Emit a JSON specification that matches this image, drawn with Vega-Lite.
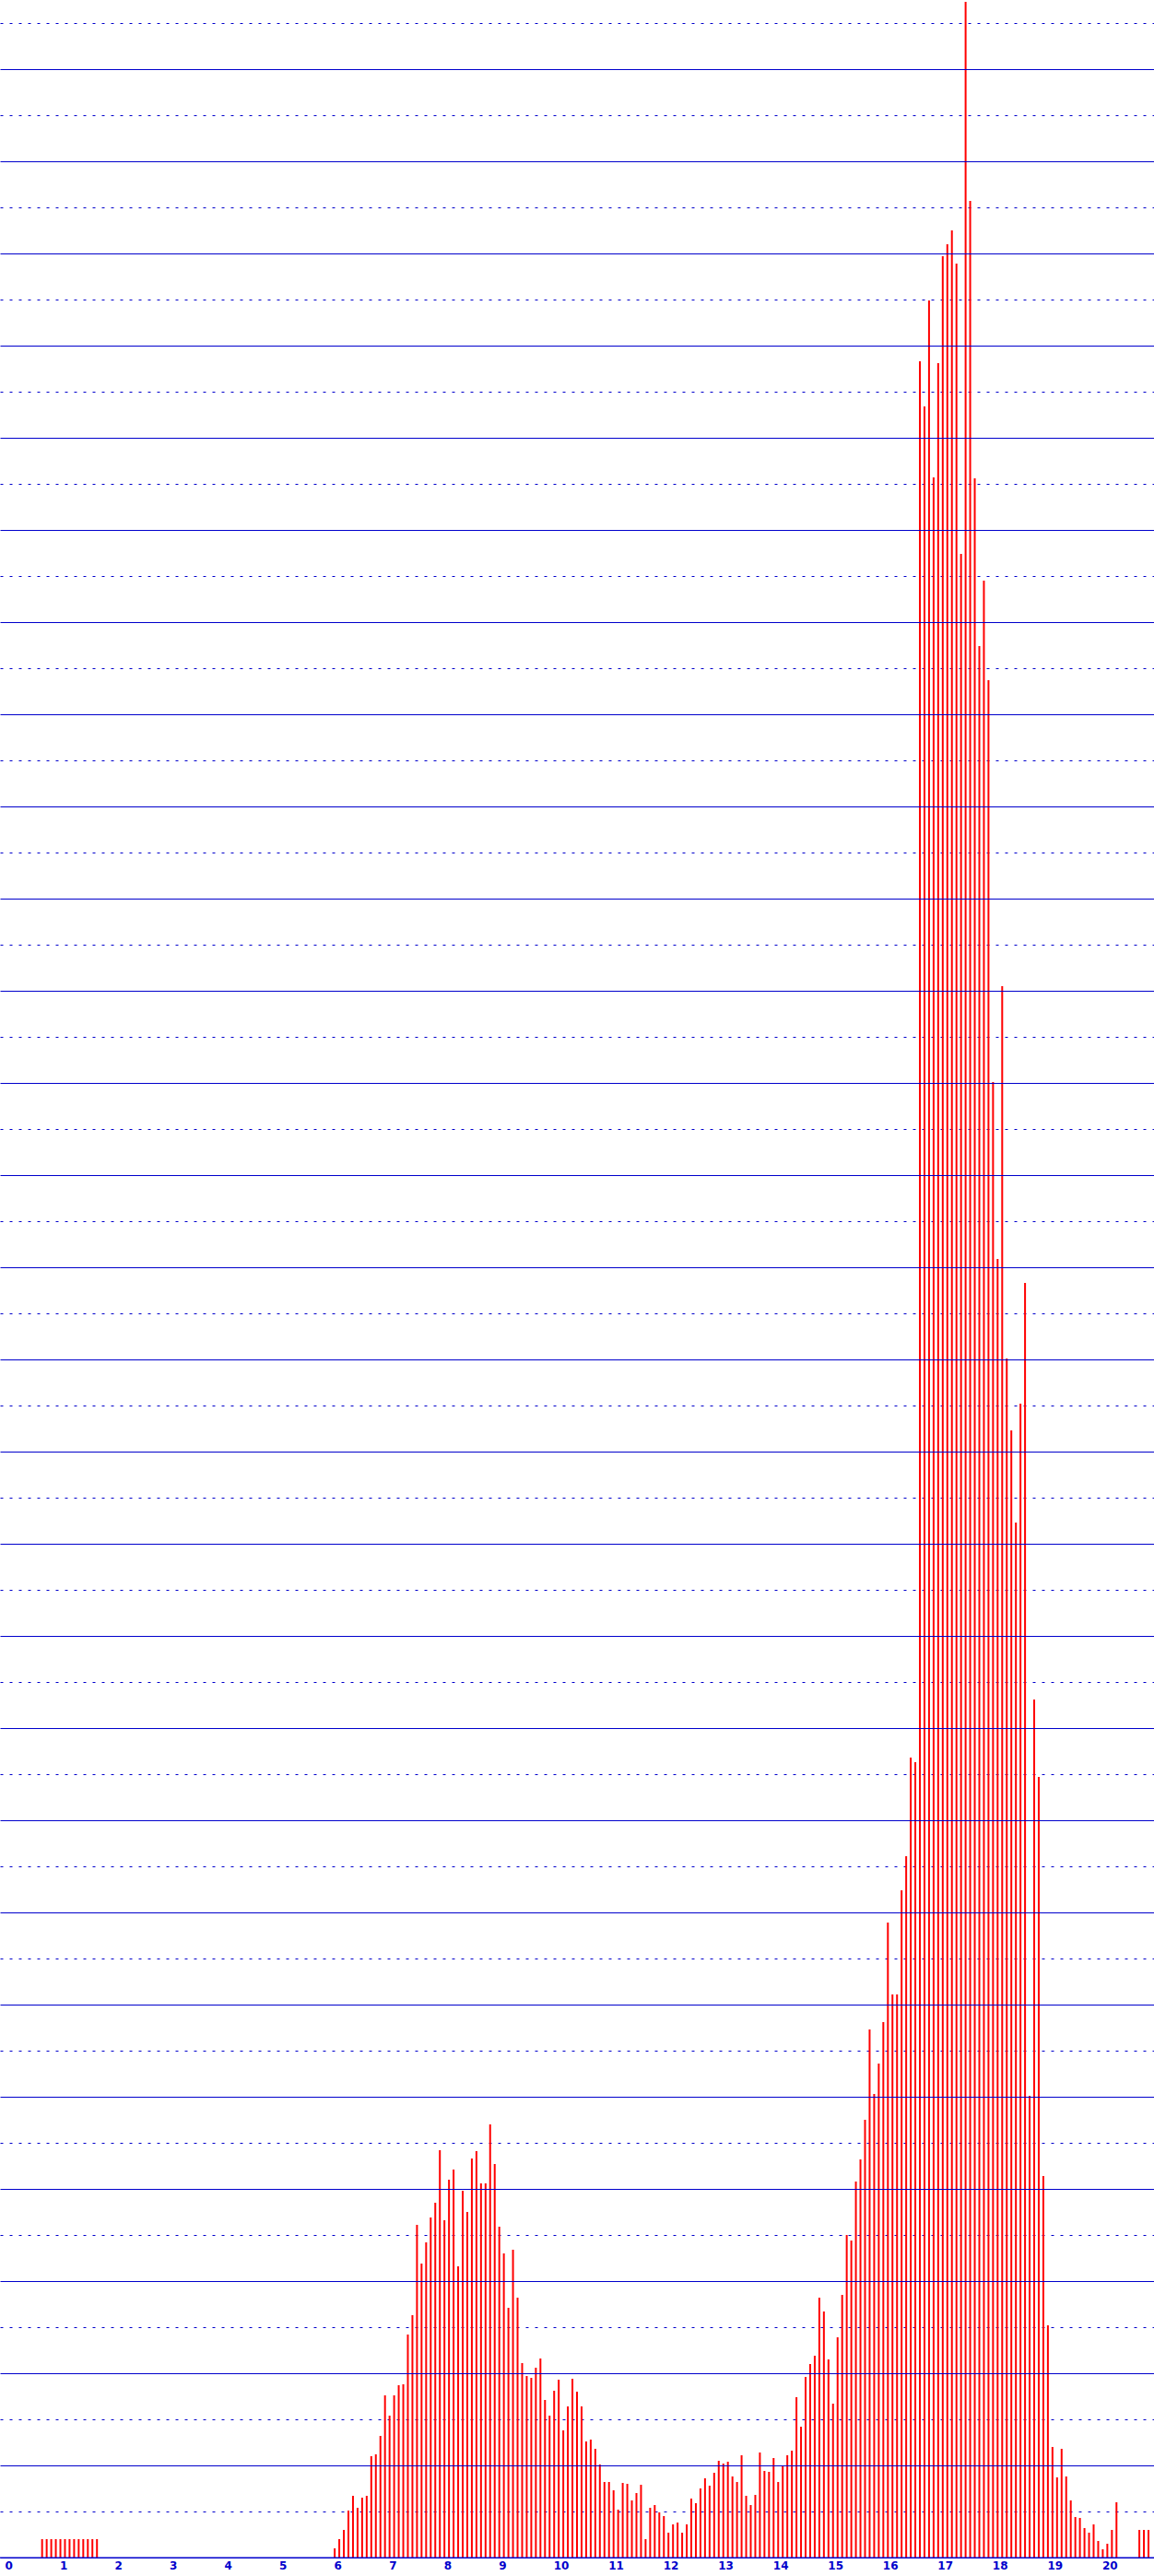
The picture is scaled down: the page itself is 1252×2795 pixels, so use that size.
{
"$schema": "https://vega.github.io/schema/vega-lite/v6.json",
"width": 1252,
"height": 2775,
"autosize": {"type": "none"},
"padding": {"left": 0, "right": 0, "top": 0, "bottom": 20},
"background": "white",
"config": {"view": {"stroke": null}},
"data": {"values": [
{"x":0.6667,"y":0.2},{"x":0.75,"y":0.2},{"x":0.8333,"y":0.2},{"x":0.9167,"y":0.2},{"x":1.0,"y":0.2},{"x":1.0833,"y":0.2},{"x":1.1667,"y":0.2},{"x":1.25,"y":0.2},{"x":1.3333,"y":0.2},{"x":1.4167,"y":0.2},{"x":1.5,"y":0.2},{"x":1.5833,"y":0.2},{"x":1.6667,"y":0.2},
{"x":6.0,"y":0.10},{"x":6.0833,"y":0.20},{"x":6.1667,"y":0.30},{"x":6.25,"y":0.51},{"x":6.3333,"y":0.67},{"x":6.4167,"y":0.54},{"x":6.5,"y":0.65},{"x":6.5833,"y":0.67},{"x":6.6667,"y":1.10},{"x":6.75,"y":1.12},{"x":6.8333,"y":1.32},{"x":6.9167,"y":1.76},
{"x":7.0,"y":1.54},{"x":7.0833,"y":1.76},{"x":7.1667,"y":1.87},{"x":7.25,"y":1.88},{"x":7.3333,"y":2.42},{"x":7.4167,"y":2.63},{"x":7.5,"y":3.61},{"x":7.5833,"y":3.19},{"x":7.6667,"y":3.42},{"x":7.75,"y":3.69},{"x":7.8333,"y":3.85},{"x":7.9167,"y":4.42},
{"x":8.0,"y":3.66},{"x":8.0833,"y":4.10},{"x":8.1667,"y":4.21},{"x":8.25,"y":3.16},{"x":8.3333,"y":3.98},{"x":8.4167,"y":3.75},{"x":8.5,"y":4.33},{"x":8.5833,"y":4.41},{"x":8.6667,"y":4.06},{"x":8.75,"y":4.06},{"x":8.8333,"y":4.70},{"x":8.9167,"y":4.27},
{"x":9.0,"y":3.59},{"x":9.0833,"y":3.30},{"x":9.1667,"y":2.71},{"x":9.25,"y":3.34},{"x":9.3333,"y":2.82},{"x":9.4167,"y":2.11},{"x":9.5,"y":1.97},{"x":9.5833,"y":1.95},{"x":9.6667,"y":2.06},{"x":9.75,"y":2.16},{"x":9.8333,"y":1.71},{"x":9.9167,"y":1.54},
{"x":10.0,"y":1.81},{"x":10.0833,"y":1.93},{"x":10.1667,"y":1.38},{"x":10.25,"y":1.64},{"x":10.3333,"y":1.94},{"x":10.4167,"y":1.80},{"x":10.5,"y":1.64},{"x":10.5833,"y":1.26},{"x":10.6667,"y":1.28},{"x":10.75,"y":1.18},{"x":10.8333,"y":1.01},{"x":10.9167,"y":0.82},
{"x":11.0,"y":0.82},{"x":11.0833,"y":0.73},{"x":11.1667,"y":0.52},{"x":11.25,"y":0.81},{"x":11.3333,"y":0.80},{"x":11.4167,"y":0.62},{"x":11.5,"y":0.70},{"x":11.5833,"y":0.79},{"x":11.6667,"y":0.20},{"x":11.75,"y":0.54},{"x":11.8333,"y":0.57},{"x":11.9167,"y":0.49},
{"x":12.0,"y":0.45},{"x":12.0833,"y":0.27},{"x":12.1667,"y":0.36},{"x":12.25,"y":0.38},{"x":12.3333,"y":0.27},{"x":12.4167,"y":0.36},{"x":12.5,"y":0.64},{"x":12.5833,"y":0.59},{"x":12.6667,"y":0.75},{"x":12.75,"y":0.86},{"x":12.8333,"y":0.78},{"x":12.9167,"y":0.92},
{"x":13.0,"y":1.05},{"x":13.0833,"y":1.02},{"x":13.1667,"y":1.04},{"x":13.25,"y":0.88},{"x":13.3333,"y":0.82},{"x":13.4167,"y":1.11},{"x":13.5,"y":0.67},{"x":13.5833,"y":0.57},{"x":13.6667,"y":0.68},{"x":13.75,"y":1.14},{"x":13.8333,"y":0.94},{"x":13.9167,"y":0.93},
{"x":14.0,"y":1.08},{"x":14.0833,"y":0.82},{"x":14.1667,"y":1.00},{"x":14.25,"y":1.11},{"x":14.3333,"y":1.16},{"x":14.4167,"y":1.74},{"x":14.5,"y":1.42},{"x":14.5833,"y":1.96},{"x":14.6667,"y":2.10},{"x":14.75,"y":2.19},{"x":14.8333,"y":2.82},{"x":14.9167,"y":2.67},
{"x":15.0,"y":2.15},{"x":15.0833,"y":1.67},{"x":15.1667,"y":2.39},{"x":15.25,"y":2.85},{"x":15.3333,"y":3.50},{"x":15.4167,"y":3.44},{"x":15.5,"y":4.08},{"x":15.5833,"y":4.32},{"x":15.6667,"y":4.75},{"x":15.75,"y":5.73},{"x":15.8333,"y":5.03},{"x":15.9167,"y":5.36},
{"x":16.0,"y":5.81},{"x":16.0833,"y":6.89},{"x":16.1667,"y":6.11},{"x":16.25,"y":6.11},{"x":16.3333,"y":7.24},{"x":16.4167,"y":7.61},{"x":16.5,"y":8.68},{"x":16.5833,"y":8.63},{"x":16.6667,"y":23.83},{"x":16.75,"y":23.34},{"x":16.8333,"y":24.49},{"x":16.9167,"y":22.57},
{"x":17.0,"y":23.81},{"x":17.0833,"y":24.97},{"x":17.1667,"y":25.10},{"x":17.25,"y":25.25},{"x":17.3333,"y":24.89},{"x":17.4167,"y":21.74},{"x":17.5,"y":27.73},{"x":17.5833,"y":25.57},{"x":17.6667,"y":22.56},{"x":17.75,"y":20.74},{"x":17.8333,"y":21.45},{"x":17.9167,"y":20.37},
{"x":18.0,"y":16.01},{"x":18.0833,"y":14.09},{"x":18.1667,"y":17.05},{"x":18.25,"y":13.01},{"x":18.3333,"y":12.23},{"x":18.4167,"y":11.23},{"x":18.5,"y":12.52},{"x":18.5833,"y":13.83},{"x":18.6667,"y":5.01},{"x":18.75,"y":9.31},{"x":18.8333,"y":8.47},{"x":18.9167,"y":4.14},
{"x":19.0,"y":2.52},{"x":19.0833,"y":1.20},{"x":19.1667,"y":0.87},{"x":19.25,"y":1.18},{"x":19.3333,"y":0.88},{"x":19.4167,"y":0.62},{"x":19.5,"y":0.44},{"x":19.5833,"y":0.43},{"x":19.6667,"y":0.32},{"x":19.75,"y":0.27},{"x":19.8333,"y":0.36},{"x":19.9167,"y":0.18},
{"x":20.0,"y":0.09},{"x":20.0833,"y":0.15},{"x":20.1667,"y":0.30},{"x":20.25,"y":0.60},{"x":20.6667,"y":0.30},{"x":20.75,"y":0.30},{"x":20.8333,"y":0.30}
]},
"layer": [
{
"mark": {"type": "bar", "color": "#ff0000", "width": 2, "xOffset": 1},
"encoding": {
"x": {"field": "x", "type": "quantitative",
"scale": {"domain": [0, 20.8667], "nice": false, "zero": false},
"axis": {"values": [0,1,2,3,4,5,6,7,8,9,10,11,12,13,14,15,16,17,18,19,20], "labelAlign": "left", "labelColor": "#0000cc", "labelFont": "DejaVu Sans", "labelFontWeight": "bold", "labelFontSize": 12, "ticks": false, "domainColor": "#0000cc", "domainWidth": 1, "labelPadding": 3, "grid": false, "title": null, "labelFlush": false, "labelOverlap": false, "labelBound": false}},
"y": {"field": "y", "type": "quantitative",
"scale": {"domain": [0, 27.75], "nice": false, "zero": true},
"axis": {"values": [0.5,1.5,2.5,3.5,4.5,5.5,6.5,7.5,8.5,9.5,10.5,11.5,12.5,13.5,14.5,15.5,16.5,17.5,18.5,19.5,20.5,21.5,22.5,23.5,24.5,25.5,26.5,27.5], "grid": true, "gridDash": [3, 7], "gridColor": "#0000cc", "gridWidth": 1, "gridOpacity": 1, "labels": false, "ticks": false, "domain": false, "title": null, "zindex": 0}}
}
},
{
"data": {"values": [{}]},
"mark": {"type": "rule", "color": "#0000cc", "strokeWidth": 1},
"encoding": {
"y": {"datum": 0, "type": "quantitative",
"axis": {"values": [0,1,2,3,4,5,6,7,8,9,10,11,12,13,14,15,16,17,18,19,20,21,22,23,24,25,26,27], "grid": true, "gridColor": "#0000cc", "gridWidth": 1, "gridOpacity": 1, "labels": false, "ticks": false, "domain": false, "title": null, "zindex": 1}}
}
}
],
"resolve": {"axis": {"y": "independent"}}
}
